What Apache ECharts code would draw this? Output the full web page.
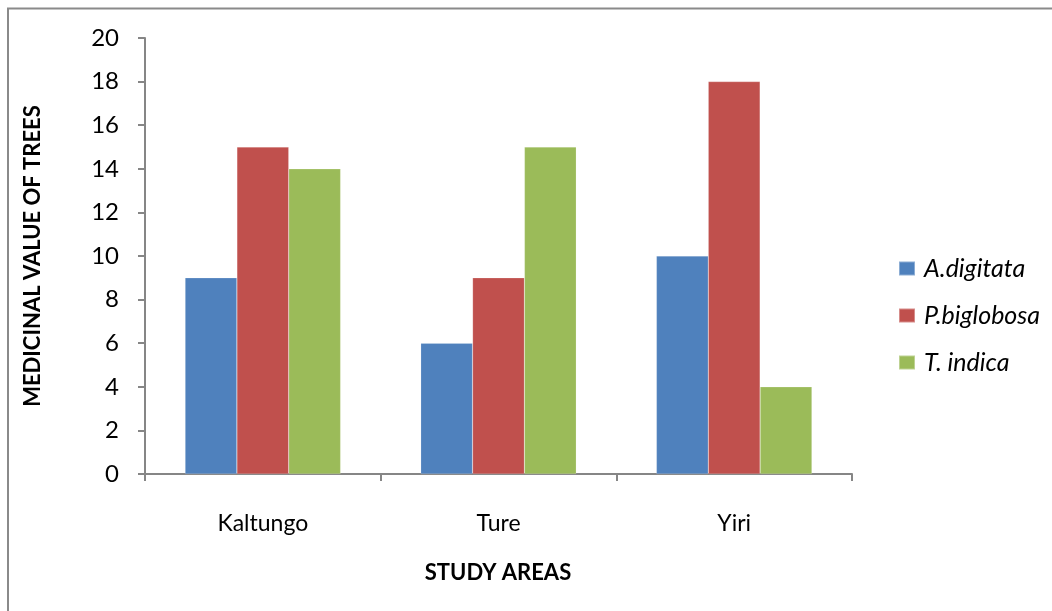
<!DOCTYPE html>
<html>
<head>
<meta charset="utf-8">
<script src="https://cdn.jsdelivr.net/npm/echarts@6/dist/echarts.min.js"></script>
<style>
  html, body { margin: 0; padding: 0; background: #fff; }
  #chart { width: 1052px; height: 611px; }
</style>
</head>
<body>
<div id="chart"></div>
<script>
// Study areas and medicinal value scores per tree species
const categories = ['Kaltungo', 'Ture', 'Yiri'];
const seriesNames = ['A.digitata', 'P.biglobosa', 'T. indica'];
const aDigitata = [9, 6, 10];
const pBiglobosa = [15, 9, 18];
const tIndica = [14, 15, 4];
const seriesColors = ['#4F81BD', '#C0504D', '#9BBB59'];

const FONT = 'Lato, "Open Sans", sans-serif';
const AXIS_GREY = '#868686';

const chart = echarts.init(document.getElementById('chart'), null, { renderer: 'canvas' });

const values = [aDigitata, pBiglobosa, tIndica];

chart.setOption({
  backgroundColor: '#ffffff',
  animation: false,
  graphic: [
    {
      type: 'polyline',
      shape: { points: [[8, 620], [8, 8.5], [1060, 8.5]] },
      style: { stroke: '#8a8a8a', lineWidth: 2, fill: null }
    },
    {
      type: 'text',
      x: 498, y: 573,
      style: {
        text: 'STUDY AREAS', font: 'bold 22px ' + FONT, fill: '#000',
        align: 'center', verticalAlign: 'middle'
      }
    }
  ],
  grid: { left: 145, top: 38, right: 200, bottom: 137, containLabel: false },
  legend: {
    orient: 'vertical',
    left: 893,
    top: 251,
    itemWidth: 16,
    itemHeight: 14,
    itemGap: 22,
    icon: 'rect',
    textStyle: { fontFamily: FONT, fontStyle: 'italic', fontSize: 25, color: '#000', padding: [0, 0, 0, 4] },
    data: seriesNames
  },
  xAxis: {
    type: 'category',
    data: categories,
    axisLine: { lineStyle: { color: AXIS_GREY, width: 2 } },
    axisTick: { show: true, length: 7, alignWithLabel: false, lineStyle: { color: AXIS_GREY, width: 2 } },
    axisLabel: { fontFamily: FONT, fontSize: 23, color: '#000', margin: 38 }
  },
  yAxis: {
    type: 'value',
    min: 0, max: 20, interval: 2,
    name: 'MEDICINAL VALUE OF TREES',
    nameLocation: 'middle',
    nameGap: 101,
    nameRotate: 90,
    nameTextStyle: { fontFamily: FONT, fontWeight: 'bold', fontSize: 22, color: '#000' },
    axisLine: { show: true, lineStyle: { color: AXIS_GREY, width: 2 } },
    axisTick: { show: true, length: 7, lineStyle: { color: AXIS_GREY, width: 2 } },
    splitLine: { show: false },
    axisLabel: { fontFamily: FONT, fontSize: 24, color: '#000', margin: 26 }
  },
  series: seriesNames.map((name, i) => ({
    name,
    type: 'bar',
    data: values[i],
    barGap: '0%',
    barCategoryGap: '34%',
    itemStyle: { color: seriesColors[i], borderColor: 'rgba(255,255,255,0.35)', borderWidth: 0.5 }
  }))
});
</script>
</body>
</html>
